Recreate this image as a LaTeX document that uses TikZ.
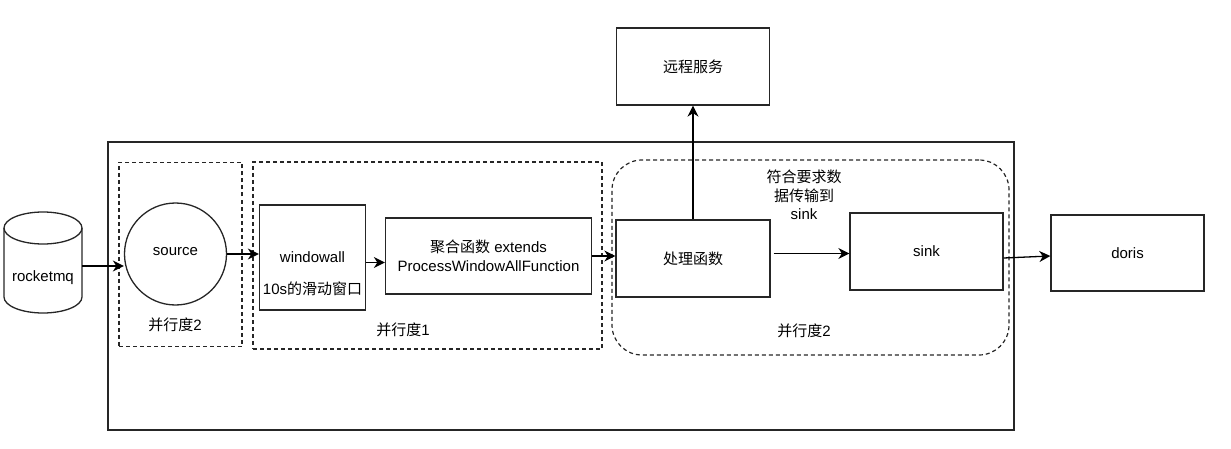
\documentclass[tikz,border=0pt]{standalone}
\usepackage{fontspec}
\setmainfont{Liberation Sans}
\newfontfamily\zhfont{Noto Sans CJK SC}
\newcommand{\zh}[1]{{\zhfont #1}}
\usetikzlibrary{arrows.meta}
\begin{document}
\begin{tikzpicture}[x=1pt,y=-1pt,
  every node/.style={font=\fontsize{15}{18.5}\selectfont, align=center, inner sep=0pt},
  box/.style={draw=black!85, line width=1.3pt, rectangle},
  grp/.style={draw=black!85, line width=1.2pt, dash pattern=on 4pt off 3pt},
  arr/.style={line width=1.3pt, -{Stealth[length=11pt,width=11pt,inset=3.5pt]}}
]
\useasboundingbox (0,0) rectangle (1231,449);
% outer frame
\node[box, line width=1.4pt, minimum width=906, minimum height=288] (outer) at (561,286) {};
% groups
\node[grp, minimum width=123, minimum height=184] (g1) at (180.5,254.5) {};
\node[grp, minimum width=349, minimum height=187] (g2) at (427.5,255.5) {};
\node[grp, rounded corners=30pt, minimum width=397, minimum height=195] (g3) at (810.5,257.5) {};
% cylinder rocketmq
\node[minimum width=78, minimum height=101] (rmq) at (43,262.5) {};
\draw[line width=1.3pt, draw=black!85] (4,228) -- (4,297) arc[start angle=180, end angle=0, x radius=39, y radius=16] -- (82,228);
\draw[line width=1.3pt, draw=black!85] (43,228) ellipse[x radius=39, y radius=16];
\node (rmqt) at (43,278) {rocketmq};
% source
\node[draw=black!85, line width=1.3pt, circle, minimum size=102] (src) at (175.5,254) {};
\node (srct) at (175.5,252) {source};
\node (p2a) at (175,325) {\zh{并行度}2};
% windowall
\node[box, minimum width=106, minimum height=105] (win) at (312.5,257.5) {};
\node (wint1) at (312.5,257) {windowall};
\node (wint2) at (312.5,289) {10s\zh{的滑动窗口}};
% aggregation
\node[box, minimum width=206, minimum height=76] (agg) at (488.5,256) {\zh{聚合函数} extends\\ProcessWindowAllFunction};
\node (p1) at (403,330) {\zh{并行度}1};
% processing
\node[box, minimum width=154, minimum height=77] (proc) at (693,258.5) {\zh{处理函数}};
\node[box, minimum width=153, minimum height=77] (sink) at (926.5,251.5) {sink};
\node (note) at (804,195) {\zh{符合要求数}\\\zh{据传输到}\\sink};
\node (p2b) at (804,331) {\zh{并行度}2};
% remote service
\node[box, minimum width=153, minimum height=77] (remote) at (693,66.5) {\zh{远程服务}};
% doris
\node[box, minimum width=153, minimum height=76] (doris) at (1127.5,253) {doris};
% arrows
\draw[arr] ([yshift=-3.5pt]rmq.east) -- ([yshift=-3.5pt]rmq.east -| src.west);
\draw[arr] (src.east) -- (src.east -| win.west);
\draw[arr] ([yshift=-5pt]win.east) -- ([yshift=-5pt]win.east -| agg.west);
\draw[arr] (agg.east) -- (agg.east -| proc.west);
\draw[arr] ([xshift=3pt,yshift=5pt]proc.east) -- ([yshift=5pt]proc.east -| sink.west);
\draw[arr] (proc.north) -- (remote.south);
\draw[arr] ([yshift=-6.5pt]sink.east) -- ([yshift=-3pt]doris.west);
\end{tikzpicture}
\end{document}
